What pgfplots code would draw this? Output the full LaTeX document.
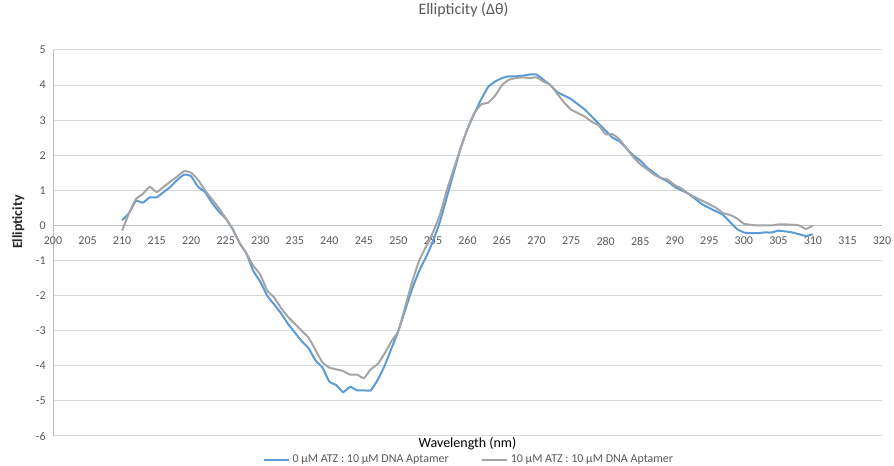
\documentclass[border=0pt]{standalone}
\usepackage{pgfplots}
\pgfplotsset{compat=1.18}
\usepackage{fontspec}
\setmainfont{Carlito}
\definecolor{cblue}{HTML}{5B9BD5}
\definecolor{cgray}{HTML}{A5A5A5}
\definecolor{tickgray}{HTML}{595959}
\definecolor{gridgray}{HTML}{D9D9D9}
\definecolor{axgray}{HTML}{BFBFBF}
\pgfplotstableread{
x a b
210 0.15 -0.15
211 0.35 0.35
212 0.70 0.75
213 0.65 0.90
214 0.80 1.10
215 0.80 0.95
216 0.95 1.10
217 1.10 1.25
218 1.30 1.40
219 1.45 1.55
220 1.40 1.50
221 1.10 1.30
222 0.95 1.00
223 0.65 0.75
224 0.40 0.50
225 0.20 0.20
226 -0.10 -0.10
227 -0.50 -0.50
228 -0.80 -0.80
229 -1.30 -1.15
230 -1.60 -1.40
231 -2.00 -1.85
232 -2.25 -2.05
233 -2.50 -2.35
234 -2.80 -2.60
235 -3.05 -2.80
236 -3.30 -3.00
237 -3.50 -3.20
238 -3.85 -3.55
239 -4.05 -3.90
240 -4.45 -4.05
241 -4.55 -4.10
242 -4.75 -4.15
243 -4.60 -4.25
244 -4.70 -4.25
245 -4.70 -4.35
246 -4.70 -4.10
247 -4.40 -3.95
248 -4.00 -3.65
249 -3.50 -3.30
250 -3.00 -3.00
251 -2.40 -2.30
252 -1.80 -1.60
253 -1.30 -1.00
254 -0.90 -0.60
255 -0.45 -0.20
256 0.10 0.30
257 0.80 1.00
258 1.50 1.60
259 2.20 2.20
260 2.75 2.75
261 3.20 3.20
262 3.60 3.45
263 3.95 3.50
264 4.10 3.70
265 4.20 4.00
266 4.25 4.15
267 4.25 4.20
268 4.27 4.22
269 4.30 4.20
270 4.30 4.22
271 4.15 4.10
272 4.00 4.00
273 3.80 3.75
274 3.70 3.50
275 3.60 3.30
276 3.45 3.20
277 3.30 3.10
278 3.10 2.95
279 2.90 2.85
280 2.70 2.60
281 2.50 2.60
282 2.40 2.45
283 2.20 2.20
284 2.00 1.95
285 1.85 1.75
286 1.65 1.60
287 1.50 1.45
288 1.35 1.35
289 1.25 1.30
290 1.10 1.15
291 1.00 1.05
292 0.90 0.90
293 0.75 0.80
294 0.60 0.70
295 0.50 0.60
296 0.40 0.50
297 0.30 0.35
298 0.10 0.30
299 -0.10 0.20
300 -0.20 0.05
301 -0.22 0.02
302 -0.22 0.00
303 -0.20 0.00
304 -0.20 0.00
305 -0.15 0.03
306 -0.17 0.03
307 -0.20 0.02
308 -0.25 0.00
309 -0.30 -0.10
310 -0.25 0.00
}\datatable
\begin{document}
\begin{tikzpicture}
\useasboundingbox (0,0) rectangle (670.5pt,349.5pt);
\begin{axis}[
  at={(39.75pt,22.5pt)}, anchor=south west,
  scale only axis, width=621.75pt, height=289.5pt,
  xmin=200, xmax=320, ymin=-6, ymax=5,
  xtick={200,205,...,320}, ytick={-6,-5,...,5},
  axis x line=middle, axis y line=left,
  axis line style={axgray, line width=0.75pt, -},
  hide obscured x ticks=false, hide obscured y ticks=false,
  major tick length=0pt,
  ymajorgrids, grid style={gridgray, line width=0.75pt},
  tick label style={font=\fontsize{9}{10}\selectfont, text=tickgray},
  /pgf/number format/assume math mode=true,
  xticklabel style={yshift=-5pt},
  yticklabel style={xshift=-2pt},
  title={Ellipticity (Δθ)},
  title style={font=\fontsize{12}{14}\selectfont, text=tickgray, at={(axis description cs:0.5,1)}, anchor=center, yshift=24pt, xshift=-3pt},
  xlabel={Wavelength (nm)},
  xlabel style={font=\fontsize{10.5}{12}\selectfont, text=black, at={(axis description cs:0.5,0)}, anchor=center, yshift=-6pt},
  ylabel={Ellipticity},
  ylabel style={font=\fontsize{10.5}{12}\selectfont\bfseries, text=black!85, at={(axis description cs:-0.0418,0.554)}, anchor=center},
  legend style={at={(axis description cs:0.502,-0.062)}, anchor=center, draw=none, fill=none, legend columns=2, font=\fontsize{9}{10}\selectfont, text=tickgray, /tikz/every even column/.append style={column sep=22pt}},
  legend image code/.code={\draw[#1, line width=1.5pt] (0pt,0pt) -- (19pt,0pt);},
  clip=false,
]
\addplot[cblue, line width=1.5pt, smooth, tension=0.3] table[x=x, y=a] {\datatable};
\addlegendentry{0 µM ATZ : 10 µM DNA Aptamer}
\addplot[cgray, line width=1.5pt, smooth, tension=0.3] table[x=x, y=b] {\datatable};
\addlegendentry{10 µM ATZ : 10 µM DNA Aptamer}
\end{axis}
\end{tikzpicture}
\end{document}
